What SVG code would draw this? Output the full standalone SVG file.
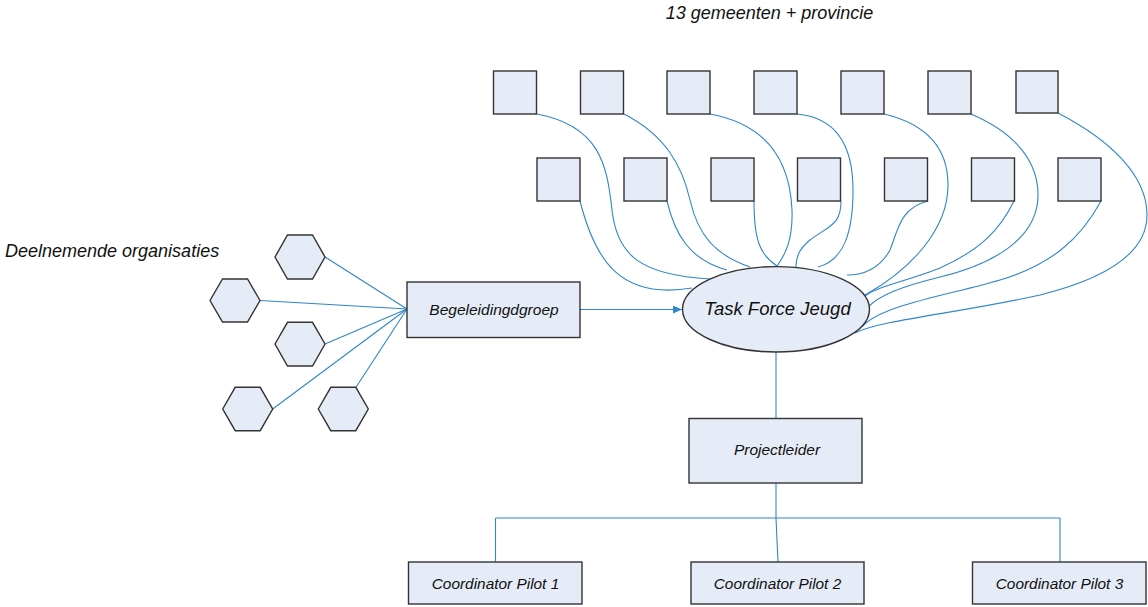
<svg xmlns="http://www.w3.org/2000/svg" width="1148" height="607" viewBox="0 0 1148 607">
<defs>
<style>
.n{fill:#E6ECF7;stroke:#333;stroke-width:1.4}
.c{fill:none;stroke:#2F86C8;stroke-width:1.1}
.t{font-family:"Liberation Sans",Arial,sans-serif;font-style:italic;fill:#111;text-anchor:middle}
.lbl{font-family:"Liberation Sans",Arial,sans-serif;font-style:italic;fill:#111;font-size:18px}
</style>
<marker id="ah" markerWidth="10" markerHeight="8" refX="9" refY="4" orient="auto" markerUnits="userSpaceOnUse">
<path d="M0,0 L9,4 L0,8 Z" fill="#2F86C8"/>
</marker>
</defs>
<rect width="1148" height="607" fill="#fff"/>
<text class="lbl" x="769.5" y="18.5" text-anchor="middle">13 gemeenten + provincie</text>
<text class="lbl" x="5" y="257">Deelnemende organisaties</text>

<g id="connectors">
<!-- hexagons to Begeleidingdgroep -->
<line class="c" x1="325" y1="257" x2="407" y2="309"/>
<line class="c" x1="260" y1="300.5" x2="407" y2="309"/>
<line class="c" x1="325" y1="344" x2="407" y2="309"/>
<line class="c" x1="272.7" y1="409" x2="407" y2="309"/>
<line class="c" x1="356" y1="387.3" x2="407" y2="309"/>
<!-- arrow -->
<line class="c" x1="580" y1="309.5" x2="682" y2="309.5" marker-end="url(#ah)"/>
<!-- gemeenten to Task Force -->
<path class="c" d="M537,114 C600,126 607,165 612,210 C617,255 640,275 710,279"/>
<path class="c" d="M580,201 C595,260 620,300 692,288"/>
<path class="c" d="M624,114 C665,135 682,165 690,200 C698,235 715,255 750,267"/>
<path class="c" d="M667,201 C675,235 690,260 727,270"/>
<path class="c" d="M710,114 C770,125 790,165 792,210 C793,240 785,255 777,266"/>
<path class="c" d="M754,201 C754,240 760,255 777,266"/>
<path class="c" d="M841,201 C841,225 830,225 810,240 C798,250 796,258 796,267"/>
<path class="c" d="M797,114 C840,118 853,150 853,190 C853,230 845,260 818,267"/>
<path class="c" d="M928,201 C900,208 898,230 890,250 C880,268 865,275 847,275"/>
<path class="c" d="M884,114 C930,125 948,150 948,185 C948,230 910,270 865,295"/>
<path class="c" d="M1014,201 C1000,230 980,250 940,268 C905,282 880,285 865,296"/>
<path class="c" d="M971,114 C1020,135 1038,165 1038,195 C1038,240 990,265 940,277 C900,287 880,295 868,307"/>
<path class="c" d="M1101,201 C1080,240 1050,265 1000,280 C950,295 880,305 862,327"/>
<path class="c" d="M1058,113 C1110,140 1147,175 1147,215 C1147,255 1100,280 1040,295 C960,313 880,320 855,333"/>
<!-- Task Force to Projectleider -->
<line class="c" x1="776" y1="352" x2="776" y2="418"/>
<!-- Projectleider to coordinators -->
<line class="c" x1="776" y1="483" x2="776" y2="518"/>
<line class="c" x1="495.5" y1="518" x2="1060" y2="518"/>
<line class="c" x1="495.5" y1="518" x2="495.5" y2="562"/>
<line class="c" x1="776" y1="518" x2="778" y2="562"/>
<line class="c" x1="1060" y1="518" x2="1060" y2="562"/>
</g>

<g id="gem-top">
<rect id="t1" class="n" x="493.5" y="71" width="43" height="43"/>
<rect id="t2" class="n" x="580.5" y="71" width="43" height="43"/>
<rect id="t3" class="n" x="667" y="71" width="43" height="43"/>
<rect id="t4" class="n" x="754" y="71" width="43" height="43"/>
<rect id="t5" class="n" x="841" y="71" width="43" height="43"/>
<rect id="t6" class="n" x="928" y="71" width="43" height="43"/>
<rect id="t7" class="n" x="1016" y="71" width="42" height="42"/>
</g>
<g id="gem-bottom">
<rect id="b1" class="n" x="537" y="158" width="43" height="43"/>
<rect id="b2" class="n" x="624" y="158" width="43" height="43"/>
<rect id="b3" class="n" x="711" y="158" width="43" height="43"/>
<rect id="b4" class="n" x="797.5" y="158" width="43" height="43"/>
<rect id="b5" class="n" x="884.5" y="158" width="43" height="43"/>
<rect id="b6" class="n" x="971.5" y="158" width="43" height="43"/>
<rect id="b7" class="n" x="1058" y="158" width="43" height="43"/>
</g>

<g id="organisaties">
<polygon id="h1" class="n" points="275,257 287.5,235 312.5,235 325,257 312.5,279 287.5,279"/>
<polygon id="h2" class="n" points="210,300.5 222.5,279 247.5,279 260,300.5 247.5,322 222.5,322"/>
<polygon id="h3" class="n" points="275,344 287.5,322.3 312.5,322.3 325,344 312.5,366 287.5,366"/>
<polygon id="h4" class="n" points="222.7,409 235.2,387.3 260.2,387.3 272.7,409 260.2,430.7 235.2,430.7"/>
<polygon id="h5" class="n" points="318.3,409 330.8,387.3 355.8,387.3 368.3,409 355.8,430.7 330.8,430.7"/>
</g>

<g id="begeleidingdgroep">
<rect class="n" x="407" y="282" width="173" height="55.5"/>
<text class="t" x="494" y="314.5" font-size="15.5">Begeleidingdgroep</text>
</g>

<g id="taskforce">
<ellipse class="n" cx="776" cy="309.3" rx="93.5" ry="42.7"/>
<text class="t" x="777.5" y="315" font-size="18.5">Task Force Jeugd</text>
</g>

<g id="projectleider">
<rect class="n" x="689" y="418.5" width="173" height="64.5"/>
<text class="t" x="777" y="455" font-size="15.5">Projectleider</text>
</g>

<g id="pilot1">
<rect class="n" x="408.5" y="562" width="173.5" height="42"/>
<text class="t" x="495.5" y="588.5" font-size="15.4">Coordinator Pilot 1</text>
</g>
<g id="pilot2">
<rect class="n" x="691" y="562" width="173" height="42"/>
<text class="t" x="777.5" y="588.5" font-size="15.4">Coordinator Pilot 2</text>
</g>
<g id="pilot3">
<rect class="n" x="972.5" y="562" width="173.5" height="42"/>
<text class="t" x="1059.5" y="588.5" font-size="15.4">Coordinator Pilot 3</text>
</g>
</svg>
